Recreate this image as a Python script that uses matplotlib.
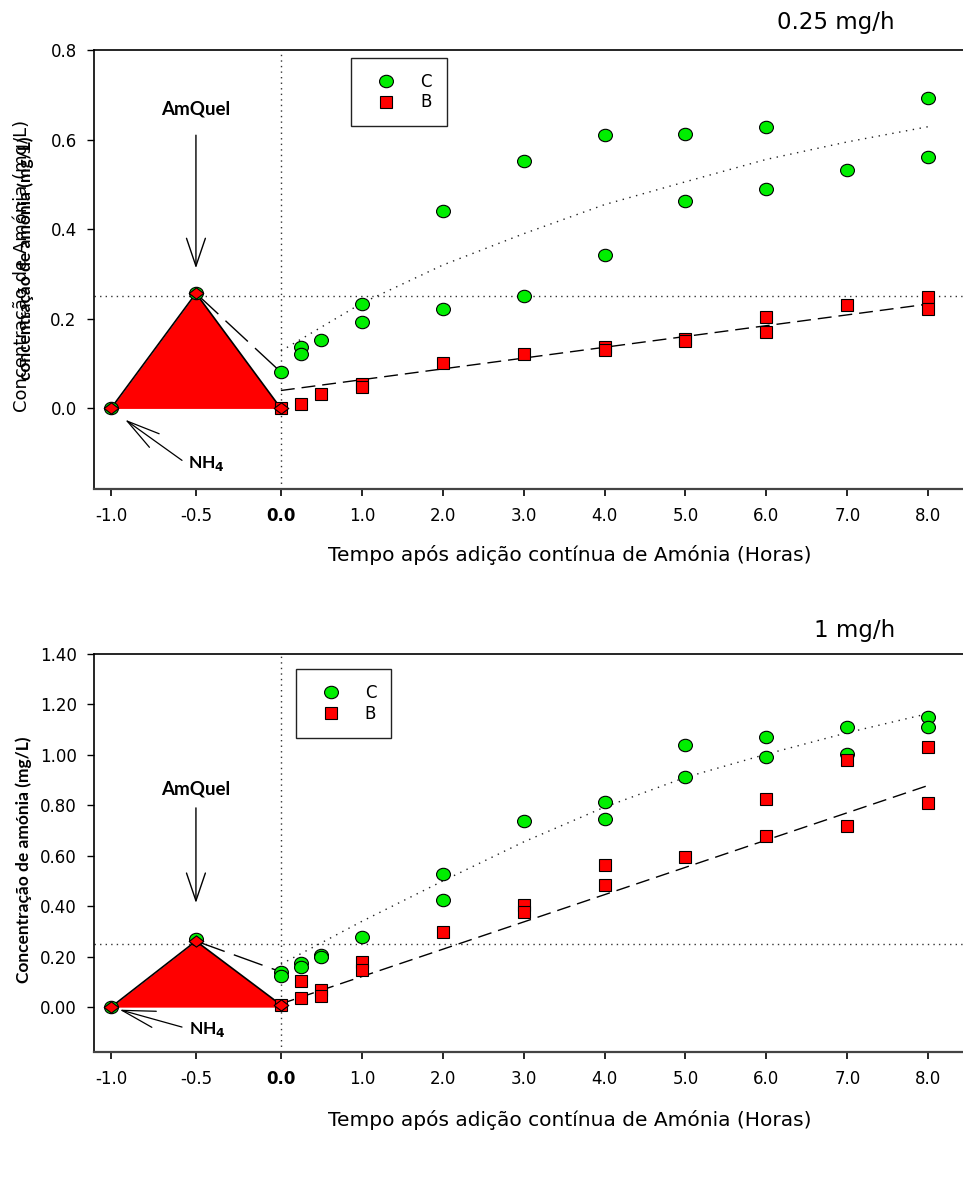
import numpy as np
import matplotlib.pyplot as plt
from matplotlib.path import Path
from matplotlib.transforms import Affine2D
from matplotlib.lines import Line2D

plt.rcParams['font.family'] = ['DejaVu Sans']

# ---- 0.25 mg/h run ----
t_c_low = [-1, -0.5, 0, 0.25, 0.25, 0.5, 1, 1, 2, 2, 3, 3, 4, 4, 5, 5, 6, 6, 7, 8, 8]
c_low = [0.0, 0.257, 0.081, 0.137, 0.122, 0.152, 0.234, 0.194, 0.441, 0.221, 0.552,
         0.252, 0.610, 0.342, 0.612, 0.463, 0.629, 0.489, 0.532, 0.693, 0.561]
t_b_low = [0, 0.25, 0.5, 1, 1, 2, 3, 4, 4, 5, 5, 6, 6, 7, 8, 8]
b_low = [0.0, 0.009, 0.033, 0.054, 0.048, 0.102, 0.121, 0.137, 0.130, 0.154, 0.150,
         0.204, 0.171, 0.232, 0.249, 0.221]
pre_t = [-1, -0.5, 0]
pre_low = [0.0, 0.257, 0.0]
fit_t = [0, 1, 2, 3, 4, 5, 6, 7, 8]
fit_c_low = [0.128, 0.235, 0.320, 0.390, 0.455, 0.506, 0.556, 0.595, 0.629]
fit_b_t = [0, 8]
fit_b_low = [0.040, 0.233]

# ---- 1 mg/h run ----
t_c_high = [-1, -0.5, 0, 0, 0.25, 0.25, 0.5, 0.5, 1, 2, 2, 3, 4, 4, 5, 5, 6, 6, 7, 7, 8, 8]
c_high = [0.0, 0.272, 0.140, 0.122, 0.177, 0.160, 0.206, 0.199, 0.279, 0.526, 0.424,
          0.738, 0.815, 0.745, 1.038, 0.913, 1.070, 0.992, 1.111, 1.004, 1.151, 1.111]
t_b_high = [0, 0.25, 0.25, 0.5, 0.5, 1, 1, 2, 3, 3, 4, 4, 5, 6, 6, 7, 7, 8, 8]
b_high = [0.009, 0.105, 0.037, 0.066, 0.046, 0.179, 0.147, 0.297, 0.406, 0.376, 0.563,
          0.484, 0.597, 0.824, 0.678, 0.979, 0.717, 1.031, 0.811]
pre_high = [0.0, 0.262, 0.009]
fit_c_high = [0.170, 0.340, 0.500, 0.655, 0.793, 0.911, 1.003, 1.088, 1.164]
fit_b_high = [0.013, 0.879]

x_ticks = [-1, -0.5, 0, 1, 2, 3, 4, 5, 6, 7, 8]
x_labels = ['-1.0', '-0.5', '0.0', '1.0', '2.0', '3.0', '4.0', '5.0', '6.0', '7.0', '8.0']
xlabel = 'Tempo após adição contínua de Amónia (Horas)'

GREEN = '#00ee00'
RED = '#ff0000'

ellipse = Path.unit_circle().transformed(Affine2D().scale(1.12, 1.0))
diamond = Path([(0, 1), (1.3, 0), (0, -1), (-1.3, 0), (0, 1)],
               [Path.MOVETO, Path.LINETO, Path.LINETO, Path.LINETO, Path.CLOSEPOLY])


def fwd(x):
    x = np.asarray(x, dtype=float)
    return np.where(x < 0, x * 2.1, x)


def inv(x):
    x = np.asarray(x, dtype=float)
    return np.where(x < 0, x / 2.1, x)


def draw_panel(ax, t_c, c, t_b, b, pre, fit_c, fit_b, ylim, yticks, ylabels,
               amquel, nh4, leg_anchor):
    ax.set_xscale('function', functions=(fwd, inv))
    ax.set_xlim(-1.1, 8.43)
    ax.set_ylim(*ylim)

    # reference lines
    ax.axhline(0.25, color='#333333', lw=1.0, ls=(0, (1, 3)), zorder=1)
    ax.axvline(0, color='#333333', lw=1.0, ls=(0, (1, 3)), zorder=1)

    # dosing pulse before t=0
    ax.fill_between(pre_t, pre, 0, color=RED, lw=0, zorder=2)
    ax.plot(pre_t, pre, color='black', lw=1.2, zorder=3)
    ax.plot([-0.5, 0], [pre[1], c[2]], color='black', lw=1.0, dashes=(22, 7), zorder=3)

    # trend lines
    ax.plot(fit_t, fit_c, color='#222222', lw=1.0, ls=(0, (1, 4)), zorder=3)
    ax.plot(fit_b_t, fit_b, color='black', lw=1.0, dashes=(10, 5), zorder=3)

    ax.plot(t_c, c, ls='none', marker=ellipse, ms=10, mfc=GREEN, mec='black', mew=0.8, zorder=4)
    ax.plot(t_b, b, ls='none', marker='s', ms=8.5, mfc=RED, mec='black', mew=0.8, zorder=5)
    ax.plot(pre_t, pre, ls='none', marker=diamond, ms=10.5, mfc=RED, mec='black', mew=0.8, zorder=6)

    # annotations
    ax.annotate('', xy=(-0.5, amquel[2]), xytext=(-0.5, amquel[1]),
                arrowprops=dict(arrowstyle='->,head_length=1.0,head_width=0.34',
                                mutation_scale=20, lw=1.0, color='black',
                                shrinkA=0, shrinkB=0))
    ax.text(-0.5, amquel[0], 'AmQuel', ha='center', va='center',
            fontsize=13.5, fontweight='bold', family='Lato')
    ax.annotate('', xy=nh4[2], xytext=nh4[1],
                arrowprops=dict(arrowstyle='->,head_length=1.2,head_width=0.3',
                                mutation_scale=20, lw=0.9, color='black',
                                shrinkA=0, shrinkB=0))
    ax.text(nh4[0][0], nh4[0][1], r'NH$_\mathbf{4}$', ha='left', va='center',
            fontsize=12.5, fontweight='bold', family='Lato')

    ax.set_xticks(x_ticks)
    ax.set_xticklabels(x_labels)
    ax.set_yticks(yticks)
    ax.set_yticklabels(ylabels)
    ax.tick_params(axis='both', direction='out', labelsize=12, color='black')
    ax.tick_params(axis='y', length=5, width=1, pad=7.5)
    ax.tick_params(axis='x', length=5, width=1.2, pad=8)
    ax.get_xticklabels()[2].set_fontweight('bold')

    ax.spines['right'].set_visible(False)
    ax.spines['left'].set_linewidth(1.2)
    ax.spines['top'].set_linewidth(1.2)
    ax.spines['bottom'].set_linewidth(1.6)
    ax.spines['bottom'].set_color('#444444')

    handles = [Line2D([], [], ls='none', marker=ellipse, ms=10, mfc=GREEN, mec='black', mew=0.8),
               Line2D([], [], ls='none', marker='s', ms=8.5, mfc=RED, mec='black', mew=0.8)]
    leg = ax.legend(handles, ['C', 'B'], loc='upper left', bbox_to_anchor=leg_anchor,
                    frameon=True, fancybox=False, edgecolor='#222222', framealpha=1,
                    fontsize=12, borderpad=0.9, handletextpad=0.85, labelspacing=0.15,
                    handlelength=2.4, borderaxespad=0)
    leg.get_frame().set_linewidth(1.0)


fig = plt.figure(figsize=(9.63, 11.87), dpi=100)

ax1 = fig.add_axes([0.0976, 0.588, 0.9024, 0.3698])
draw_panel(ax1, t_c_low, c_low, t_b_low, b_low, pre_low, fit_c_low, fit_b_low,
           (-0.18, 0.8), [0, 0.2, 0.4, 0.6, 0.8], ['0.0', '0.2', '0.4', '0.6', '0.8'],
           amquel=(0.668, 0.61, 0.313),
           nh4=((-0.547, -0.123), (-0.582, -0.116), (-0.917, -0.025)),
           leg_anchor=(0.296, 0.982))

ax2 = fig.add_axes([0.0976, 0.1137, 0.9024, 0.3353])
draw_panel(ax2, t_c_high, c_high, t_b_high, b_high, pre_high, fit_c_high, fit_b_high,
           (-0.178, 1.4), [0, 0.2, 0.4, 0.6, 0.8, 1.0, 1.2, 1.4],
           ['0.00', '0.20', '0.40', '0.60', '0.80', '1.00', '1.20', '1.40'],
           amquel=(0.865, 0.79, 0.413),
           nh4=((-0.54, -0.088), (-0.582, -0.079), (-0.95, -0.010)),
           leg_anchor=(0.232, 0.962))

# axis titles
fig.text(895 / 963, 1 - 22 / 1187, '0.25 mg/h', ha='right', va='center', fontsize=16.5)
fig.text(895 / 963, 1 - 630 / 1187, '1 mg/h', ha='right', va='center', fontsize=16.5)
fig.text(570 / 963, 1 - 555 / 1187, xlabel, ha='center', va='center', fontsize=14.5)
fig.text(570 / 963, 1 - 1120 / 1187, xlabel, ha='center', va='center', fontsize=14.5)

# y labels (upper panel carries two stacked labels)
fig.text(22 / 963, 1 - 266 / 1187, 'Concentração de Amónia (mg/L)', rotation=90,
         ha='center', va='center', fontsize=13)
fig.text(26 / 963, 1 - 258 / 1187, 'concentração de amónia (mg/L)', rotation=90,
         ha='center', va='center', fontsize=12.5, fontweight='bold', family='Lato')
fig.text(24 / 963, 1 - 860 / 1187, 'Concentração de amónia (mg/L)', rotation=90,
         ha='center', va='center', fontsize=12.5, fontweight='bold', family='Lato')

fig.savefig('out.png', dpi=100)
